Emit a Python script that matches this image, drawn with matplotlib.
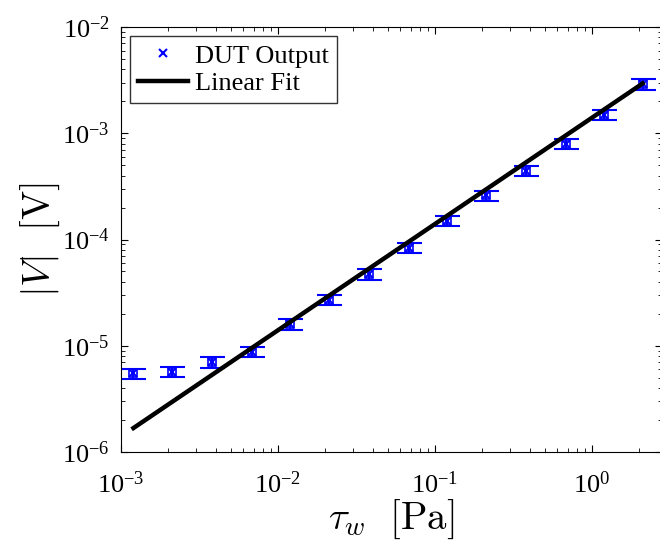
import matplotlib.pyplot as plt
import numpy as np

plt.rcParams['font.family'] = ['Liberation Serif', 'DejaVu Serif']
plt.rcParams['mathtext.fontset'] = 'cm'

# wall shear stress [Pa] and measured output amplitude [V]
tau_w = [1.2e-3, 2.1e-3, 3.8e-3, 6.8e-3, 1.2e-2, 2.1e-2, 3.8e-2,
         6.8e-2, 0.12, 0.21, 0.38, 0.68, 1.2, 2.1]
v_out = [5.5e-6, 5.7e-6, 7.0e-6, 8.8e-6, 1.6e-5, 2.7e-5, 4.7e-5,
         8.4e-5, 1.5e-4, 2.6e-4, 4.4e-4, 8.0e-4, 1.5e-3, 2.9e-3]
v_err = [0.6e-6, 0.6e-6, 0.8e-6, 1.0e-6, 1.8e-6, 3.0e-6, 5.2e-6,
         9.2e-6, 1.65e-5, 2.9e-5, 4.8e-5, 8.8e-5, 1.65e-4, 3.2e-4]
fit_slope = 1.4e-3  # V/Pa

tau = np.array(tau_w)
fig = plt.figure(figsize=(6.6, 5.47), dpi=100)
ax = fig.add_axes([121 / 660, 1 - 452 / 547, 541 / 660, 425 / 547])

ax.errorbar(tau, v_out, yerr=v_err, fmt='none', ecolor='blue',
            elinewidth=1.5, capsize=9, capthick=1.5, zorder=2)
ax.plot(tau, v_out, 's', mfc='none', mec='blue', ms=6, mew=1.2, zorder=2)
ax.plot(tau, v_out, 'x', color='blue', ms=6, mew=1.5, zorder=2,
        label='DUT Output')
ax.plot(tau, fit_slope * tau, '-', color='black', lw=3.2, zorder=3,
        label='Linear Fit')

ax.set_xscale('log')
ax.set_yscale('log')
ax.set_xlim(1e-3, 10 ** 0.446)
ax.set_ylim(1e-6, 1e-2)
ax.tick_params(which='both', direction='in', top=True, right=True,
               labelsize=19)
ax.tick_params(axis='x', pad=14)
ax.tick_params(axis='y', pad=8)
ax.tick_params(which='major', length=5)
ax.tick_params(which='minor', length=3)

ax.set_xlabel(r'$\tau_w\ \ [\mathrm{Pa}]$', fontsize=28, labelpad=0)
ax.set_ylabel(r'$|V|\ \ [\mathrm{V}]$', fontsize=28, labelpad=0)

leg = ax.legend(loc='upper left', fontsize=19, frameon=True, fancybox=False,
                edgecolor='black', borderaxespad=0.35, handlelength=1.9,
                borderpad=0.3, labelspacing=0.15, handletextpad=0.25)
leg.get_frame().set_linewidth(1.0)

fig.savefig('out.png', dpi=100)
